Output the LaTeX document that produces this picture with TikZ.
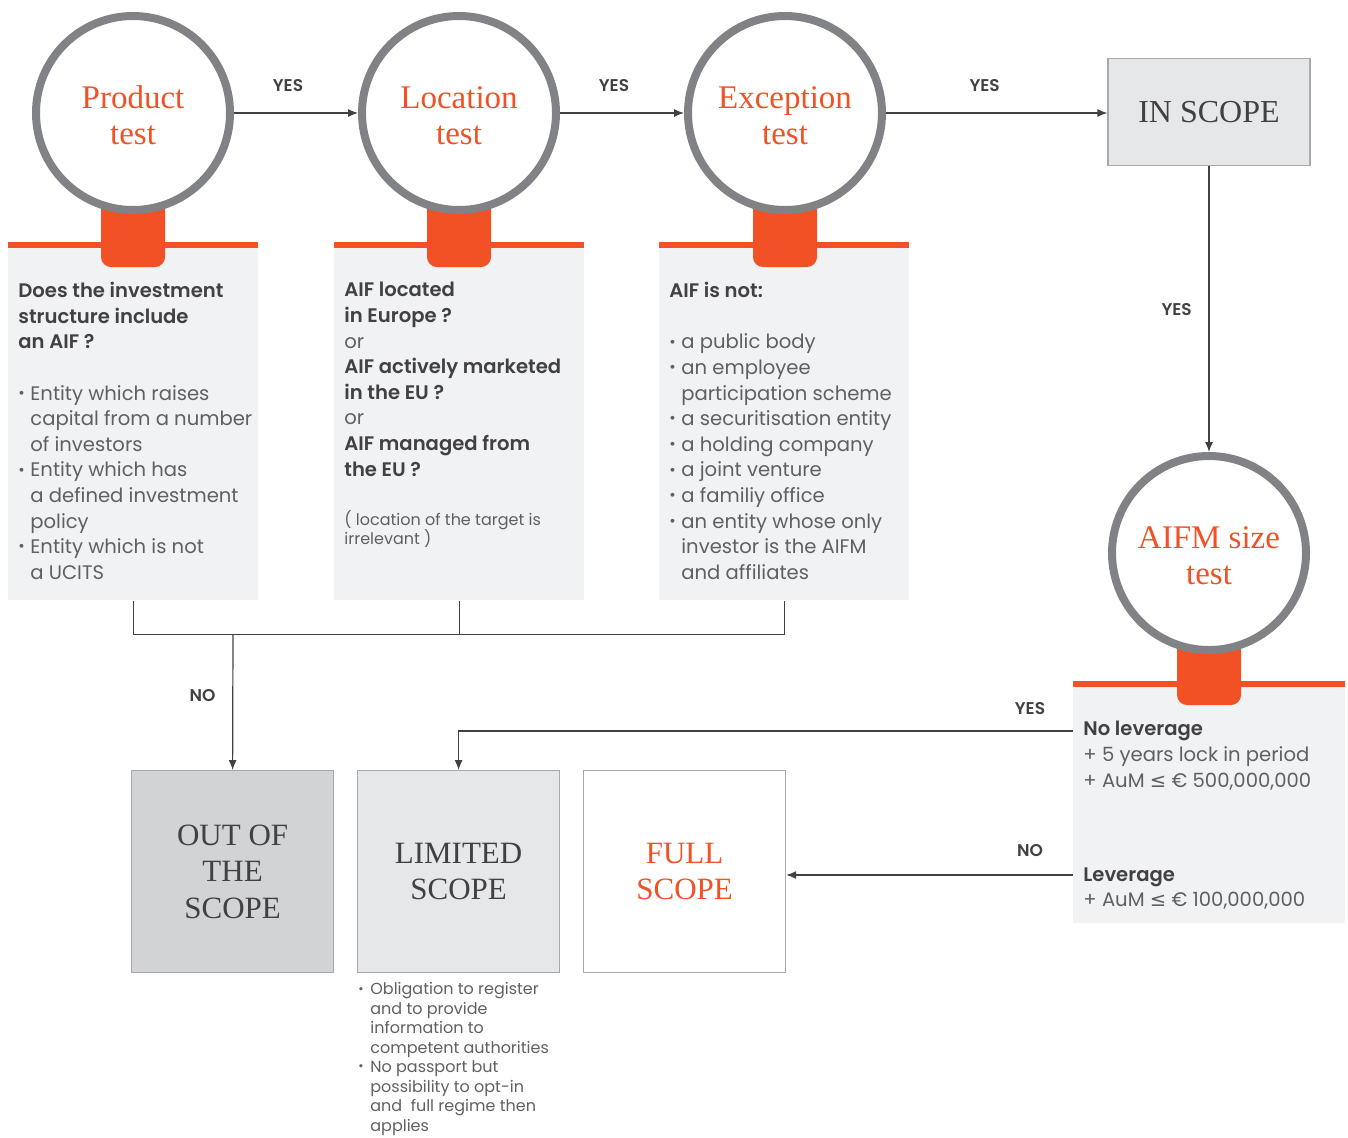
\documentclass[tikz,border=0pt]{standalone}
\usepackage{fontspec}
\setmainfont{Poppins}[BoldFont={Poppins SemiBold}]
\newfontfamily\headfont{Liberation Serif}
\newfontfamily\symfont{DejaVu Sans}
\usepackage{graphicx}
\usetikzlibrary{positioning,arrows.meta}

\definecolor{accent}{HTML}{F15125}
\definecolor{ring}{HTML}{808285}
\definecolor{panelgray}{HTML}{F1F2F4}
\definecolor{outgray}{HTML}{D1D3D4}
\definecolor{limgray}{HTML}{E6E7E8}
\definecolor{ink}{HTML}{414042}
\definecolor{bodytext}{HTML}{5F6062}
\definecolor{edgegray}{HTML}{A7A9AC}

\newlength\bulw
\setlength\bulw{6pt}
\newcommand{\bul}{\makebox[\bulw][l]{\raisebox{0.1em}{\scalebox{0.8}{\textbullet}}}}
\newcommand{\ind}{\hspace*{\bulw}}
\newcommand{\qline}[1]{{\color{ink}\bfseries #1}}
\newcommand{\leqs}{{\symfont ≤}}

\begin{document}
\begin{tikzpicture}[
    x=0.5pt, y=-0.5pt,
    test/.style={circle, draw=ring, line width=4pt, fill=white, minimum size=97pt, inner sep=0,
      align=center, text=accent, font=\headfont\fontsize{16.5}{18}\selectfont},
    tab/.style={fill=accent, rounded corners=5pt, minimum width=32pt, minimum height=38pt, inner sep=0},
    panel/.style={fill=panelgray, minimum width=125pt, minimum height=179pt, anchor=north west, inner sep=0},
    bar/.style={fill=accent, minimum width=125pt, minimum height=3pt, anchor=north west, inner sep=0},
    body/.style={anchor=north west, inner sep=0, align=left, text=bodytext, font=\fontsize{9.8}{12.8}\selectfont},
    note/.style={anchor=north west, inner sep=0, align=left, text=bodytext, font=\fontsize{8}{9.75}\selectfont},
    result/.style={draw=edgegray, line width=0.6pt, minimum width=101pt, minimum height=101pt, anchor=north west,
      inner sep=0, align=center, text=ink, font=\headfont\fontsize{15.5}{18.25}\selectfont},
    arrow/.style={-{Latex[length=5pt,width=4pt]}, draw=ink, line width=0.6pt},
    link/.style={draw=ink, line width=0.6pt},
    answer/.style={font=\bfseries\fontsize{8.5}{10}\selectfont, text=ink},
  ]
  \useasboundingbox (0,0) rectangle (1348,1137);

  % Test panels
  \node[panel] (prodbox) at (8,242) {};
  \node[panel] (locbox) at (334,242) {};
  \node[panel] (excbox) at (659,242) {};
  \node[bar] (prodbar) at (8,242) {};
  \node[bar] (locbar) at (334,242) {};
  \node[bar] (excbar) at (659,242) {};
  \node[tab] (prodtab) at (133,229) {};
  \node[tab] (loctab) at (459,229) {};
  \node[tab] (exctab) at (785,229) {};

  % Test circles
  \node[test] (prod) at (133,113) {\rule{0pt}{14pt}Product\\test};
  \node[test] (loc) at (459,113) {\rule{0pt}{14pt}Location\\test};
  \node[test] (exc) at (785,113) {\rule{0pt}{14pt}Exception\\test};

  % In scope and AIFM size test
  \node[draw=edgegray, fill=limgray, line width=0.6pt, minimum width=101pt, minimum height=53.5pt, inner sep=0,
    text=ink, font=\headfont\fontsize{16}{18}\selectfont] (inscope) at (1209,112) {IN SCOPE};
  \node[panel, minimum width=136pt, minimum height=121pt] (aifmbox) at (1073,681) {};
  \node[bar, minimum width=136pt] (aifmbar) at (1073,681) {};
  \node[tab] (aifmtab) at (1209,667) {};
  \node[test] (aifm) at (1209,553) {\rule{0pt}{14pt}AIFM size\\test};

  % Outcomes
  \node[result, fill=outgray] (out) at (131,770) {OUT OF\\THE\\SCOPE};
  \node[result, fill=limgray] (lim) at (357,770) {LIMITED\\SCOPE};
  \node[result, fill=white, text=accent] (full) at (583,770) {FULL\\SCOPE};

  % Panel texts
  \node[body] (prodtext) at (18,282) {\qline{Does the investment}\\ \qline{structure include}\\ \qline{an AIF ?}\\[12.8pt]
    \bul Entity which raises\\ \ind capital from a number\\ \ind of investors\\
    \bul Entity which has\\ \ind a defined investment\\ \ind policy\\
    \bul Entity which is not\\ \ind a UCITS};
  \node[body] (loctext) at (344,282) {\qline{AIF located}\\ \qline{in Europe ?}\\ or\\
    \qline{AIF actively marketed}\\ \qline{in the EU ?}\\ or\\
    \qline{AIF managed from}\\ \qline{the EU ?}};
  \node[note] (locnote) at (344,510) {( location of the target is\\ irrelevant )};
  \node[body] (exctext) at (669,282) {\qline{AIF is not:}\\[12.8pt]
    \bul a public body\\ \bul an employee\\ \ind participation scheme\\
    \bul a securitisation entity\\ \bul a holding company\\ \bul a joint venture\\
    \bul a familiy office\\ \bul an entity whose only\\ \ind investor is the AIFM\\ \ind and affiliates};
  \node[body] (nolev) at (1083,721) {\qline{No leverage}\\ + 5 years lock in period\\ + AuM \leqs{} € 500,000,000};
  \node[body] (lev) at (1083,867) {\qline{Leverage}\\ + AuM \leqs{} € 100,000,000};
  \node[note] (limnote) at (358,982) {\bul Obligation to register\\ \ind and to provide\\ \ind information to\\
    \ind competent authorities\\ \bul No passport but\\ \ind possibility to opt-in\\ \ind and\ \ full regime then\\ \ind applies};

  % Arrows
  \draw[arrow] (prod) -- node[answer, above=7pt, xshift=-4pt] (yes1) {YES} (loc);
  \draw[arrow] (loc) -- node[answer, above=7pt, xshift=-4pt] (yes2) {YES} (exc);
  \draw[arrow] (exc) -- node[answer, above=7pt, xshift=-6pt] (yes3) {YES} (exc -| inscope.west);
  \draw[arrow] (inscope) -- node[answer, left=5pt] (yes4) {YES} (aifm);
  \draw[link] (prodbox.south) -- ++(0,34) -| (excbox.south);
  \draw[link] (locbox.south) -- ++(0,34);
  \coordinate (nojoin) at (233,634);
  \draw[arrow] (nojoin) -- node[answer, left=5pt, yshift=3pt] (no1) {NO} (out.north);
  \coordinate (yesout) at (1073,731);
  \coordinate (noout) at (1073,875);
  \draw[arrow] (yesout) -| (lim.north);
  \draw[arrow] (noout) -- (noout -| full.east);
  \node[answer] (yes5) at (1030,709) {YES};
  \node[answer] (no2) at (1030,851) {NO};
\end{tikzpicture}
\end{document}
